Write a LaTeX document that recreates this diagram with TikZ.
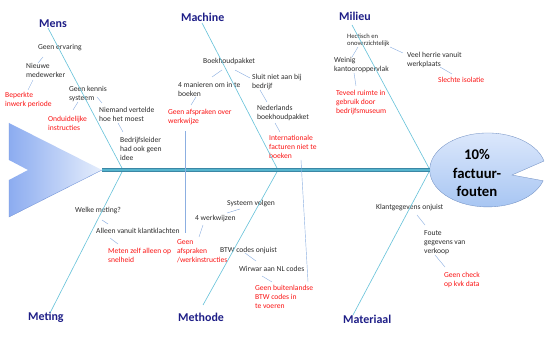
\documentclass[tikz,border=0pt]{standalone}
\usepackage{fontspec}
\setmainfont{Carlito}
\usetikzlibrary{positioning,calc}
\definecolor{navy}{RGB}{30,30,135}
\definecolor{textgray}{RGB}{45,45,45}
\definecolor{faultred}{RGB}{250,20,20}
\definecolor{linkblue}{RGB}{140,175,225}
\definecolor{bonecyan}{RGB}{105,195,218}
\definecolor{spinedark}{RGB}{60,135,165}
\definecolor{spineteal}{RGB}{85,180,205}
\definecolor{tailL}{RGB}{140,172,240}
\definecolor{tailR}{RGB}{230,238,252}
\definecolor{tailedge}{RGB}{110,145,215}
\definecolor{headT}{RGB}{222,233,252}
\definecolor{headB}{RGB}{165,196,242}
\definecolor{headline}{RGB}{115,145,195}

\begin{document}
\begin{tikzpicture}[x=0.5mm, y=-0.5mm,
  title/.style={anchor=west, inner sep=0pt, font=\fontsize{17}{20}\selectfont\bfseries, text=navy},
  cause/.style={anchor=west, inner sep=0pt, align=left, font=\fontsize{10.8}{12.8}\selectfont, text=textgray},
  smallcause/.style={cause, font=\fontsize{9.4}{10.2}\selectfont},
  fault/.style={cause, text=faultred},
  link/.style={draw=linkblue, line width=0.6pt},
  bone/.style={draw=bonecyan, line width=0.9pt},
]
\useasboundingbox (0,0) rectangle (549,340);

\coordinate (tip) at (102,170);
\coordinate (mouth) at (430,170);
\coordinate (j1) at (123,170);
\coordinate (j2) at (278,170);

\shade[left color=tailL, right color=tailR] (9,123) -- (tip) -- (9,217) -- (9,180) -- (28,170) -- (9,160) -- cycle;
\draw[tailedge, line width=0.5pt] (9,160) -- (9,123) (tip) -- (9,217) -- (9,180);
\shadedraw[top color=headT, bottom color=headB, draw=headline, line width=0.5pt]
  (544,161) arc[start angle=-14, end angle=-343, x radius=58, y radius=37] -- (512,175) -- cycle;
\node[align=center, font=\fontsize{21}{26}\selectfont\bfseries] (head) at (477,173) {10\%\\factuur-\\fouten};

\node[title] (mens) at (39,24) {Mens};
\node[title] (machine) at (181,17) {Machine};
\node[title] (milieu) at (339,16) {Milieu};
\node[title] (meting) at (28,317) {Meting};
\node[title] (methode) at (178,317) {Methode};
\node[title] (materiaal) at (343,319) {Materiaal};

\node[cause] (ervaring) at (38,48) {Geen ervaring};
\node[cause] (nieuwe) at (26,70) {Nieuwe\\medewerker};
\node[fault] (inwerk) at (5,99.5) {Beperkte\\inwerk periode};
\node[cause] (kennis) at (69,93.5) {Geen kennis\\systeem};
\node[fault] (onduid) at (48,123.5) {Onduidelijke\\instructies};
\node[cause] (niemand) at (99,114) {Niemand vertelde\\hoe het moest};
\node[cause] (leider) at (120,149) {Bedrijfsleider\\had ook geen\\idee};

\node[cause] (pakket) at (203,61) {Boekhoudpakket};
\node[cause] (manieren) at (178,89.5) {4 manieren om in te\\boeken};
\node[cause] (sluit) at (252,82) {Sluit niet aan bij\\bedrijf};
\node[fault] (werkwijze) at (168,117) {Geen afspraken over\\werkwijze};
\node[cause] (nederlands) at (257,112.5) {Nederlands\\boekhoudpakket};
\node[fault] (internat) at (269,147) {Internationale\\facturen niet te\\boeken};

\node[smallcause] (hectisch) at (347,40.5) {Hectisch en\\onoverzichtelijk};
\node[cause] (weinig) at (334,65.5) {Weinig\\kantooroppervlak};
\node[fault] (teveel) at (336,103) {Teveel ruimte in\\gebruik door\\bedrijfsmuseum};
\node[cause] (herrie) at (407,59.5) {Veel herrie vanuit\\werkplaats};
\node[fault] (isolatie) at (438,80) {Slechte isolatie};

\node[cause] (welke) at (75,211) {Welke meting?};
\node[cause] (klachten) at (96,231) {Alleen vanuit klantklachten};
\node[fault] (snelheid) at (108,255) {Meten zelf alleen op\\snelheid};

\node[cause] (volgen) at (227,204) {Systeem volgen};
\node[cause] (werkwijzen) at (195,219) {4 werkwijzen};
\node[fault] (instructies) at (177,251) {Geen\\afspraken\\/werkinstructies};
\node[cause] (btw) at (220,251) {BTW codes onjuist};
\node[cause] (wirwar) at (239,269) {Wirwar aan NL codes};
\node[fault] (buitenl) at (255,297) {Geen buitenlandse\\BTW codes in\\te voeren};

\node[cause] (klant) at (376,208) {Klantgegevens onjuist};
\node[cause] (foute) at (424,243) {Foute\\gegevens van\\verkoop};
\node[fault] (kvk) at (444,279.5) {Geen check\\op kvk data};

\draw[bone] ($(mens.west)+(9,4)$) -- (j1) -- ($(meting.west)+(22,-4)$);
\draw[bone] ($(machine.west)+(21,6)$) -- (j2) -- ($(methode.west)+(25,-12)$);
\draw[bone] ($(milieu.west)+(13,9)$) -- (mouth) -- ($(materiaal.west)+(10,-4)$);
\draw[spinedark, line width=1.6mm] (tip) -- (mouth);
\draw[spineteal, line width=1.0mm] (tip) -- (mouth);

\draw[link] ($(ervaring.west)+(5,9)$) -- ($(nieuwe.west)+(12,-7)$);
\draw[link] ($(nieuwe.west)+(7,10)$) -- ($(inwerk.west)+(23,-9.5)$);
\draw[link] ($(kennis.west)+(9,8.5)$) -- ($(onduid.west)+(25,-13.5)$);
\draw[link] ($(kennis.west)+(28,3.5)$) -- ($(niemand.west)+(3,-11)$);
\draw[link] ($(niemand.west)+(19,9)$) -- ($(leider.west)+(3,-17)$);

\draw[link] ($(pakket.west)+(19,9)$) -- ($(manieren.west)+(34,-12.5)$);
\draw[link] ($(pakket.west)+(32,9)$) -- ($(sluit.west)+(-2,-4)$);
\draw[link] ($(manieren.west)+(18,7.5)$) -- ($(werkwijze.west)+(23,-12)$);
\draw[link] ($(sluit.west)+(8,8)$) -- ($(nederlands.west)+(10,-10.5)$);
\draw[link] ($(nederlands.west)+(18,10.5)$) -- ($(internat.west)+(11,-15)$);
\draw[link] ($(werkwijze.west)+(17,14)$) -- ($(instructies.west)+(8,-18)$);
\draw[link] ($(internat.west)+(32,13)$) -- ($(buitenl.west)+(53,-15)$);

\draw[link] ($(hectisch.west)+(11,6.5)$) -- ($(weinig.west)+(18,-8.5)$);
\draw[link] ($(hectisch.west)+(43,6.5)$) -- ($(herrie.west)+(-4,-6.5)$);
\draw[link] ($(weinig.west)+(20,7.5)$) -- ($(teveel.west)+(20,-17)$);
\draw[link] ($(herrie.west)+(33,7.5)$) -- ($(isolatie.west)+(14,-6)$);

\draw[link] ($(welke.west)+(27,9)$) -- ($(klachten.west)+(12,-7)$);
\draw[link] ($(klachten.west)+(14,7)$) -- ($(snelheid.west)+(10,-11)$);

\draw[link] ($(volgen.west)+(13,5)$) -- ($(werkwijzen.west)+(32,-6)$);
\draw[link] ($(werkwijzen.west)+(8,6)$) -- ($(instructies.west)+(22,-14)$);
\draw[link] ($(btw.west)+(25,2)$) -- ($(wirwar.west)+(17,-8)$);
\draw[link] ($(wirwar.west)+(23,7)$) -- ($(buitenl.west)+(17,-15)$);

\draw[link] ($(klant.west)+(41,7)$) -- ($(foute.west)+(1,-18)$);
\draw[link] ($(foute.west)+(11,12)$) -- ($(kvk.west)+(1,-12.5)$);
\end{tikzpicture}
\end{document}
